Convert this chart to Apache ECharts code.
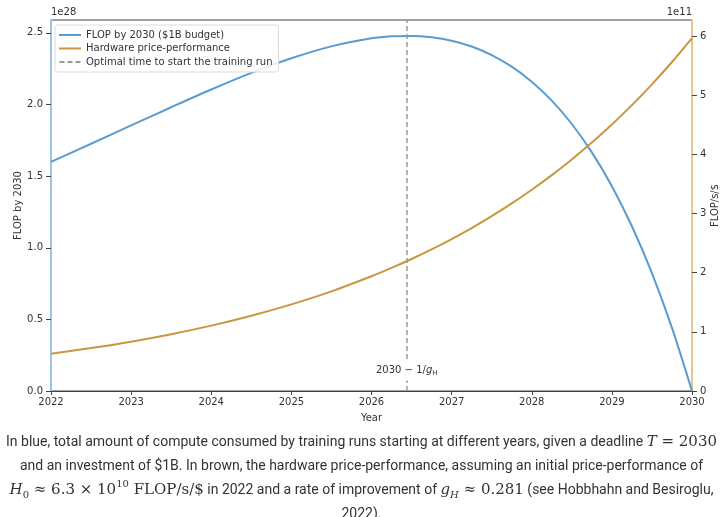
<!DOCTYPE html>
<html>
<head>
<meta charset="utf-8">
<script src="https://cdn.jsdelivr.net/npm/echarts@6/dist/echarts.min.js"></script>
<style>
    body { margin: 0; background: #fff; }
    #chart { position: absolute; left: 0; top: 0; width: 723px; height: 430px; }
    #caption {
        position: absolute; left: 0; top: 429px; width: 723px;
        text-align: center; white-space: nowrap;
        font-family: Roboto, sans-serif; font-size: 14px; line-height: 24px;
        color: #333; letter-spacing: 0;
    }
    .m { font-family: "DejaVu Serif", "Liberation Serif", serif; font-size: 15px; letter-spacing: 0; }
    .i { font-style: italic; }
    .sub { font-size: 10px; position: relative; top: 4px; line-height: 0; }
    .sup { font-size: 10px; position: relative; top: -7px; line-height: 0; }
    a { color: #333; }
</style>
</head>
<body>
<div id="chart"></div>
<div id="caption">
    In blue, total amount of compute consumed by training runs starting at different years, given a deadline <span class="m"><span class="i">T</span> = 2030</span><br>
    and an investment of $1B. In brown, the hardware price-performance, assuming an initial price-performance of<br>
    <span class="m"><span class="i">H</span><span class="sub">0</span> &asymp; 6.3 &times; 10<span class="sup">10</span> FLOP/s/$</span> in 2022 and a rate of improvement of <span class="m"><span class="i">g</span><span class="sub i">H</span> &asymp; 0.281</span> (see <a>Hobbhahn and Besiroglu,</a><br>
    2022).
</div>
<script>
//年份（起始训练时间）
var years = [2022, 2022.5, 2023, 2023.5, 2024, 2024.5, 2025, 2025.5, 2026, 2026.25, 2026.5, 2026.75,
    2027, 2027.25, 2027.5, 2027.75, 2028, 2028.25, 2028.5, 2028.75, 2029, 2029.25, 2029.5, 2029.75, 2030];
//FLOP by 2030, 单位 1e28
var flopValues = [1.600, 1.726, 1.854, 1.981, 2.105, 2.221, 2.323, 2.406, 2.462, 2.476, 2.479, 2.469,
    2.445, 2.405, 2.345, 2.264, 2.159, 2.027, 1.864, 1.666, 1.430, 1.150, 0.823, 0.441, 0];
//硬件性价比, 单位 1e11 FLOP/s/$
var hwValues = [0.630, 0.725, 0.834, 0.960, 1.105, 1.272, 1.464, 1.684, 1.939, 2.080, 2.231, 2.393,
    2.568, 2.754, 2.955, 3.170, 3.401, 3.648, 3.914, 4.198, 4.504, 4.831, 5.183, 5.560, 5.965];
var optimalYear = 2026.44;
var leftTicks = [0, 0.5, 1.0, 1.5, 2.0, 2.5];
var rightTicks = [0, 1, 2, 3, 4, 5, 6];

function pairs (xs, ys) {
    var out = [];
    for (var i = 0; i < xs.length; i++) {
        out.push([xs[i], ys[i]]);
    }
    return out;
}

var font = 'DejaVu Sans';
var fs = 10;
var solidIcon = 'path://M0 0H22V2H0Z';
var dashIcon = 'path://M0 0H5V2H0Z M8 0H13V2H8Z M16 0H21V2H16Z';
var chart = echarts.init(document.getElementById('chart'));
var option = {
    animation: false,
    textStyle: { fontFamily: font },
    grid: {
        left: 51, right: 31, top: 20, bottom: 39,
        outerBoundsMode: 'none', containLabel: false,
        show: true, borderColor: '#444', borderWidth: 1
    },
    legend: {
        left: 55, top: 25,
        orient: 'vertical',
        itemWidth: 22, itemHeight: 2, itemGap: 3.5,
        padding: [5, 6, 5, 4],
        borderColor: '#dcdcdc', borderWidth: 1, borderRadius: 3,
        backgroundColor: 'rgba(255,255,255,0.85)',
        textStyle: { fontSize: fs, color: '#333', fontFamily: font },
        data: [
            { name: 'FLOP by 2030 ($1B budget)', icon: solidIcon },
            { name: 'Hardware price-performance', icon: solidIcon },
            { name: 'Optimal time to start the training run', icon: dashIcon }
        ]
    },
    xAxis: {
        type: 'value', min: 2022, max: 2030, interval: 1,
        name: 'Year', nameLocation: 'middle', nameGap: 22,
        nameTextStyle: { fontSize: fs, color: '#333' },
        axisLine: { lineStyle: { color: '#444' } },
        axisTick: { length: 4, lineStyle: { color: '#444' } },
        axisLabel: { fontSize: fs, color: '#333', margin: 6, formatter: function (v) { return String(v); } },
        splitLine: { show: false }
    },
    yAxis: [{
        type: 'value', min: 0, max: 2.59, interval: 0.5,
        name: 'FLOP by 2030', nameLocation: 'middle', nameGap: 28, nameRotate: 90,
        nameMoveOverlap: false,
        nameTextStyle: { fontSize: fs, color: '#333' },
        axisLine: { show: true, lineStyle: { color: '#9cc4e6', width: 2 } },
        axisTick: { show: true, length: 5, lineStyle: { color: '#444' } },
        axisLabel: {
            fontSize: fs, color: '#333', margin: 8, showMaxLabel: false,
            formatter: function (v) { return leftTicks.indexOf(v) >= 0 ? v.toFixed(1) : ''; }
        },
        splitLine: { show: false }
    }, {
        type: 'value', min: 0, max: 6.27, interval: 1,
        name: 'FLOP/s/$', nameLocation: 'middle', nameGap: 18, nameRotate: 90,
        nameMoveOverlap: false,
        nameTextStyle: { fontSize: fs, color: '#333' },
        axisLine: { show: true, lineStyle: { color: '#e8c58c', width: 2 } },
        axisTick: { show: true, length: 5, lineStyle: { color: '#444' } },
        axisLabel: {
            fontSize: fs, color: '#333', margin: 8, showMaxLabel: false,
            formatter: function (v) { return rightTicks.indexOf(v) >= 0 ? String(v) : ''; }
        },
        splitLine: { show: false }
    }],
    graphic: [
        { type: 'text', left: 51, top: 7, style: { text: '1e28', fontSize: fs, fill: '#333', fontFamily: font } },
        { type: 'text', right: 31, top: 7, style: { text: '1e11', fontSize: fs, fill: '#333', fontFamily: font } }
    ],
    series: [{
        name: 'FLOP by 2030 ($1B budget)',
        type: 'line', smooth: 0.3, symbol: 'none',
        yAxisIndex: 0,
        data: pairs(years, flopValues),
        itemStyle: { color: '#5a9bd0' },
        lineStyle: { width: 2, color: '#5a9bd0' },
        z: 3
    }, {
        name: 'Hardware price-performance',
        type: 'line', smooth: 0.3, symbol: 'none',
        yAxisIndex: 1,
        data: pairs(years, hwValues),
        itemStyle: { color: '#c9973f' },
        lineStyle: { width: 2, color: '#c9973f' },
        z: 3
    }, {
        name: 'Optimal time to start the training run',
        type: 'line', symbol: 'none',
        yAxisIndex: 0,
        data: [],
        itemStyle: { color: '#999' },
        lineStyle: { width: 1.5, type: [5, 3], color: '#999' },
        markLine: {
            silent: true, symbol: 'none',
            label: { show: false },
            lineStyle: { width: 1.5, type: [5, 3], color: '#999' },
            data: [{ xAxis: optimalYear }]
        },
        markPoint: {
            symbol: 'rect', symbolSize: 1,
            itemStyle: { color: 'rgba(0,0,0,0)' },
            label: {
                show: true, position: 'inside',
                backgroundColor: '#fff', padding: [3, 2, 4, 2],
                fontSize: fs, color: '#333', fontFamily: font,
                formatter: '2030 \u2212 1/{g|g}{h|H}',
                rich: {
                    g: { fontStyle: 'italic', fontSize: fs, color: '#333', fontFamily: font },
                    h: { fontSize: 7, color: '#333', fontFamily: font, padding: [5, 0, 0, 0] }
                }
            },
            data: [{ coord: [optimalYear, 0.14] }]
        },
        z: 2
    }]
};
chart.setOption(option);
</script>
</body>
</html>
